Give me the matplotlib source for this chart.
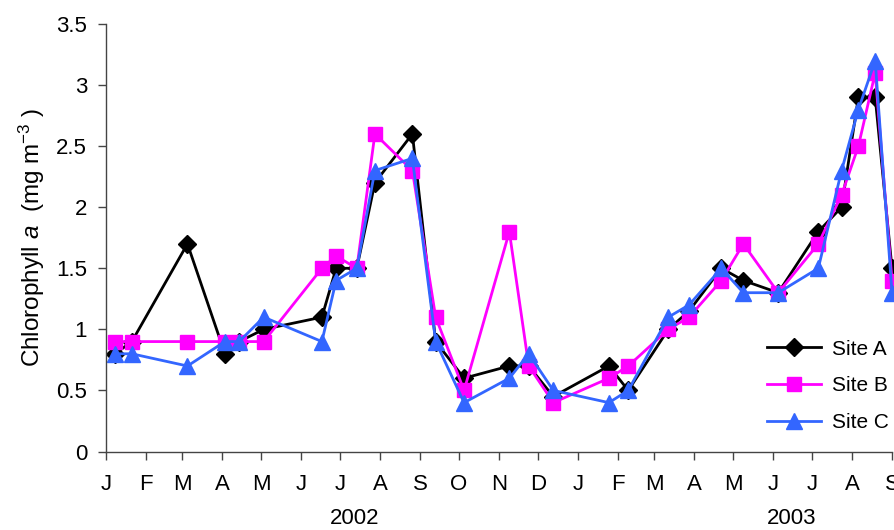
import pandas as pd
import matplotlib
matplotlib.use('Agg')
import matplotlib.pyplot as plt
import matplotlib.dates as mdates
import matplotlib.transforms as mtransforms

plt.rcParams['font.family'] = ['Liberation Sans', 'DejaVu Sans']
plt.rcParams['mathtext.fontset'] = 'custom'
plt.rcParams['mathtext.rm'] = 'Liberation Sans'
plt.rcParams['mathtext.it'] = 'Liberation Sans:italic'

# Sampling dates
dates = pd.to_datetime([
    '2002-01-08', '2002-01-21', '2002-03-05', '2002-04-03', '2002-04-14',
    '2002-05-03', '2002-06-17', '2002-06-28', '2002-07-14', '2002-07-28',
    '2002-08-26', '2002-09-13', '2002-10-05', '2002-11-09', '2002-11-24',
    '2002-12-13', '2003-01-25', '2003-02-09', '2003-03-12', '2003-03-28',
    '2003-04-22', '2003-05-09', '2003-06-05', '2003-07-06', '2003-07-24',
    '2003-08-06', '2003-08-19', '2003-09-01'])

# Chlorophyll a (mg m-3) at each site
site_a = [0.8, 0.9, 1.7, 0.8, 0.9, 1.0, 1.1, 1.5, 1.5, 2.2, 2.6, 0.9, 0.6, 0.7,
          0.7, 0.45, 0.7, 0.5, 1.0, 1.15, 1.5, 1.4, 1.3, 1.8, 2.0, 2.9, 2.9, 1.5]
site_b = [0.9, 0.9, 0.9, 0.9, 0.9, 0.9, 1.5, 1.6, 1.5, 2.6, 2.3, 1.1, 0.5, 1.8,
          0.7, 0.4, 0.6, 0.7, 1.0, 1.1, 1.4, 1.7, 1.3, 1.7, 2.1, 2.5, 3.1, 1.4]
site_c = [0.8, 0.8, 0.7, 0.9, 0.9, 1.1, 0.9, 1.4, 1.5, 2.3, 2.4, 0.9, 0.4, 0.6,
          0.8, 0.5, 0.4, 0.5, 1.1, 1.2, 1.5, 1.3, 1.3, 1.5, 2.3, 2.8, 3.2, 1.3]

month_labels = ['J', 'F', 'M', 'A', 'M', 'J', 'J', 'A', 'S', 'O', 'N', 'D',
                'J', 'F', 'M', 'A', 'M', 'J', 'J', 'A', 'S']
years = ['2002', '2003']
year_pos = ['2002-07-12', '2003-06-15']

fig = plt.figure(figsize=(8.95, 5.30), dpi=100)
ax = fig.add_axes([106 / 895, 1 - 451.5 / 530, 786 / 895, 427.5 / 530])

ax.plot(dates, site_a, color='black', lw=2, marker='D', ms=9,
        label='Site A', clip_on=False)
ax.plot(dates, site_b, color='#FF00FF', lw=2, marker='s', ms=10,
        label='Site B', clip_on=False)
ax.plot(dates, site_c, color='#3366FF', lw=2, marker='^', ms=11,
        label='Site C', clip_on=False)

ax.set_xlim(pd.Timestamp('2002-01-01'), pd.Timestamp('2003-09-01'))
ax.set_ylim(0, 3.5)
ax.set_yticks([0, 0.5, 1, 1.5, 2, 2.5, 3, 3.5])
ax.set_yticklabels(['0', '0.5', '1', '1.5', '2', '2.5', '3', '3.5'])

ticks = pd.date_range('2002-01-01', '2003-09-01', freq='MS')
ax.set_xticks(ticks)
ax.set_xticklabels(month_labels)

for side in ['top', 'right']:
    ax.spines[side].set_visible(False)
for side in ['left', 'bottom']:
    ax.spines[side].set_color('#444444')
    ax.spines[side].set_linewidth(1)

ax.tick_params(axis='both', direction='out', length=6, width=1,
               color='#444444', labelsize=16)
ax.tick_params(axis='x', pad=10)
ax.tick_params(axis='y', pad=7.5)

ax.set_ylabel(r'Chlorophyll $\mathit{a}$  (mg m$^{-3}$ )', fontsize=17.5,
              labelpad=7)

trans = mtransforms.blended_transform_factory(ax.transData, fig.transFigure)
for y, p in zip(years, year_pos):
    ax.text(mdates.date2num(pd.Timestamp(p)), 1 - 519 / 530, y,
            transform=trans, ha='center', va='center', fontsize=16)

ax.legend(loc='lower right', bbox_to_anchor=(1.006, 0.026), frameon=False,
          fontsize=15, handlelength=2.6, labelspacing=0.85, handletextpad=0.5,
          borderaxespad=0.0)

fig.savefig('out.png', dpi=100)
